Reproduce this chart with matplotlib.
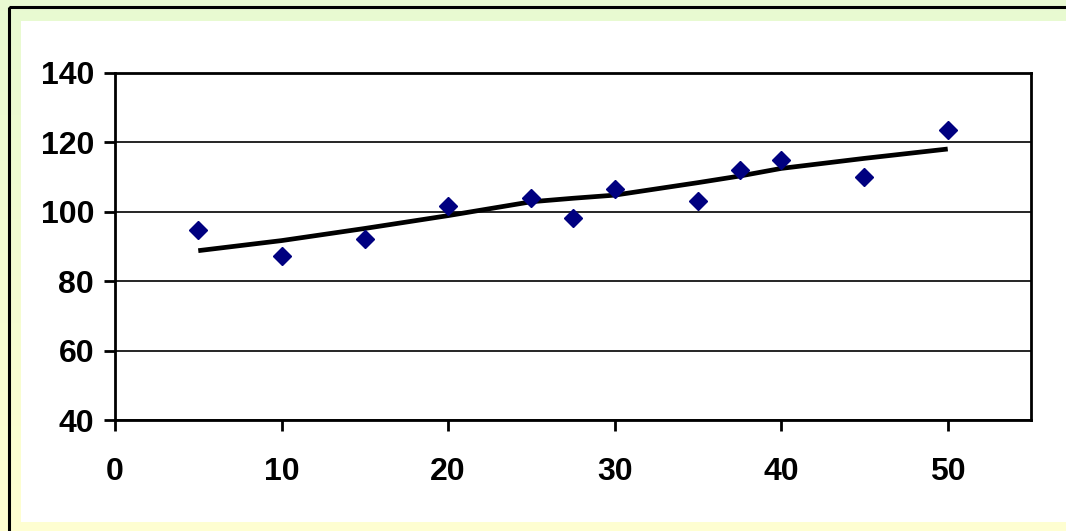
#!/usr/bin/env python3
import numpy as np
import matplotlib; matplotlib.use('Agg')
import matplotlib.pyplot as plt
from matplotlib.patches import Rectangle

plt.rcParams.update({
    'font.family': ['Liberation Sans', 'DejaVu Sans'],
    'font.weight': 'bold',
})

## observed data
x_obs = [5, 10, 15, 20, 25, 27.5, 30, 35, 37.5, 40, 45, 50]
y_obs = [94.8, 87.3, 92.2, 101.7, 104.0, 98.3, 106.6, 103.1, 112.0, 114.9, 110.0, 123.6]
## fitted line
y_fit = [88.8, 91.7, 95.2, 98.9, 102.9, 103.9, 104.8, 108.4, 110.3, 112.5, 115.4, 118.1]

xticks = [0, 10, 20, 30, 40, 50]
yticks = [40, 60, 80, 100, 120, 140]

W, H = 1066, 531
fig = plt.figure(figsize=(W / 100, H / 100), dpi=100)

## background: vertical gradient green -> yellow, black frame, white panel
bg = fig.add_axes([0, 0, 1, 1])
bg.set_xlim(0, W); bg.set_ylim(H, 0); bg.axis('off')
top = np.array([0.91, 0.98, 0.82]); bot = np.array([1.0, 1.0, 0.82])
t = np.linspace(0, 1, 256)[:, None, None]
grad = top * (1 - t) + bot * t
bg.imshow(np.repeat(grad, 2, axis=1), extent=[0, W, H, 0], aspect='auto')
bg.add_patch(Rectangle((9, 7), W + 20, H + 20, fill=False, ec='black', lw=2.2))
bg.add_patch(Rectangle((21, 21), W, 501, fc='white', ec='none'))

ax = fig.add_axes([115 / W, 1 - 420 / H, (1031 - 115) / W, (420 - 73) / H])
ax.set_facecolor('none')
ax.plot(x_obs, y_fit, color='black', lw=3.4, solid_capstyle='butt', zorder=3)
ax.plot(x_obs, y_obs, 'D', color='#000080', ms=9, mec='#000080', zorder=4, clip_on=False)

ax.set_xlim(0, 55); ax.set_ylim(40, 140)
ax.set_xticks(xticks); ax.set_yticks(yticks)
ax.yaxis.grid(True, color='black', lw=1.2)
ax.xaxis.grid(False)
for s in ax.spines.values():
    s.set_linewidth(2); s.set_color('black')
ax.tick_params(direction='out', length=8, width=2, labelsize=23)
for lab in ax.get_xticklabels() + ax.get_yticklabels():
    lab.set_fontweight('bold')
ax.tick_params(axis='y', pad=7)
ax.tick_params(axis='x', pad=19)

fig.savefig('out.png', dpi=100)
